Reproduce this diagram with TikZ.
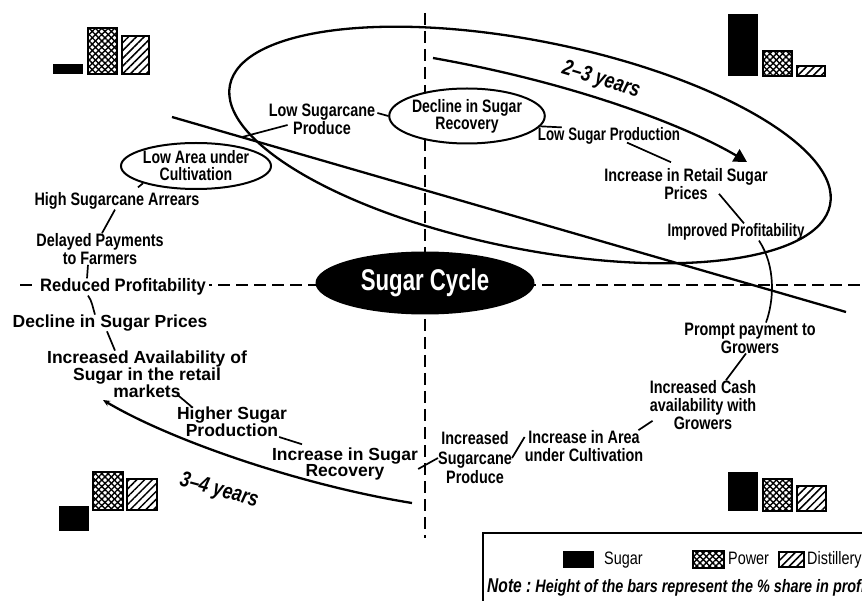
\documentclass[tikz,border=0pt]{standalone}
\usepackage{fontspec}
\setmainfont{Liberation Sans}
\newfontfamily\nf{Liberation Sans}[FakeStretch=0.80]
\newfontfamily\rf{Liberation Sans}[FakeStretch=0.92]
\newfontfamily\ef{Liberation Sans}[FakeStretch=0.78]
\newfontfamily\cf{Liberation Sans}[FakeStretch=0.74]
\usetikzlibrary{patterns.meta,arrows.meta,shapes.geometric}
\newcommand\pwbar[2]{%
  \fill[pattern={Lines[angle=45,distance=4.5pt,line width=1.4pt]}] (#1) rectangle (#2);
  \fill[pattern={Lines[angle=-45,distance=4.5pt,line width=1.4pt]}] (#1) rectangle (#2);
  \draw[barline] (#1) rectangle (#2);}
\newcommand\dsbar[2]{%
  \fill[pattern={Lines[angle=45,distance=5.5pt,line width=1.5pt]}] (#1) rectangle (#2);
  \draw[barline] (#1) rectangle (#2);}
\newcommand\sgbar[2]{\fill[black] (#1) rectangle (#2);}
\begin{document}
\begin{tikzpicture}[x=1pt,y=-1pt,
  lab/.style={inner sep=0pt, align=center, font=\nf\bfseries\fontsize{18}{18}\selectfont},
  clab/.style={inner sep=0pt, align=center, font=\cf\bfseries\fontsize{18}{18}\selectfont},
  blab/.style={inner sep=0pt, align=center, font=\bfseries\fontsize{17.5}{16.8}\selectfont},
  oval/.style={draw, ellipse, line width=2pt, fill=white, inner sep=0pt, align=center,
               font=\ef\bfseries\fontsize{18}{17}\selectfont},
  conn/.style={line width=1.7pt},
  curv/.style={line width=2.3pt},
  axis/.style={line width=2.6pt, dash pattern=on 12pt off 6pt},
  barline/.style={line width=1.2pt},
  yrs/.style={inner sep=0pt, font=\nf\bfseries\itshape\fontsize{22}{22}\selectfont},
  lgd/.style={anchor=base west, inner sep=0pt, font=\nf\fontsize{18}{18}\selectfont}]
\useasboundingbox (0,0) rectangle (862,601);
\clip (0,0) rectangle (862,601);
\fill[white] (0,0) rectangle (862,601);

% axes
\draw[axis] (20,285) -- (862,285);
\draw[axis] (425,13) -- (425,538);

% big loop and long lines
\node[draw, ellipse, line width=2.3pt, minimum width=612, minimum height=208,
      rotate=-11.3, inner sep=0pt] (bigell) at (530,145) {};
\draw[curv] (172,117) -- (846,312);
\draw[curv, -{Triangle[length=13pt,width=14pt]}] (433,58) .. controls (580,84) and (690,128) .. (747,162);
\draw[curv, -{Stealth[length=7pt,width=6pt]}] (412,503) .. controls (300,485) and (170,440) .. (103,400);

\node[yrs, rotate=-17] (y23) at (601,80) {2–3 years};
\node[yrs, rotate=-15] (y34) at (219,491) {3–4 years};

% nodes
\node[ellipse, fill=black, minimum width=219, minimum height=63, inner sep=0pt,
      text=white, font=\cf\bfseries\fontsize{30}{30}\selectfont] (sc) at (425,283) {Sugar Cycle};
\node[oval, minimum width=141, minimum height=55] (decl) at (467,116) {Decline in Sugar\\Recovery};
\node[oval, minimum width=142, minimum height=46] (lowarea) at (196,166) {Low Area under\\Cultivation};
\node[lab] (lsc) at (322,119) {Low Sugarcane\\Produce};
\node[clab] (lsp) at (609,136) {Low Sugar Production};
\node[lab] (irsp) at (686,184) {Increase in Retail Sugar\\Prices};
\node[clab] (imp) at (736,232) {Improved Profitability};
\node[lab] (ppg) at (750,338) {Prompt payment to\\Growers};
\node[lab] (icash) at (703,405) {Increased Cash\\availability with\\Growers};
\node[lab] (iarea) at (584,446) {Increase in Area\\under Cultivation};
\node[lab, font=\nf\bfseries\fontsize{18}{19.5}\selectfont] (isp) at (475,458) {Increased\\Sugarcane\\Produce};
\node[blab] (isr) at (345,464) {Increase in Sugar\\Recovery};
\node[blab] (hsp) at (232,422) {Higher Sugar\\Production};
\node[blab] (iasm) at (147,374) {Increased Availability of\\Sugar in the retail\\markets};
\node[blab] (dsp) at (110,323) {Decline in Sugar Prices};
\node[inner sep=0pt, inner xsep=3pt, fill=white, font=\rf\bfseries\fontsize{18}{18}\selectfont] (rp) at (123,287) {Reduced Profitability};
\node[lab] (dpf) at (100,249) {Delayed Payments\\to Farmers};
\node[lab] (hsa) at (117,201) {High Sugarcane Arrears};

% connectors
\draw[conn] ([shift={(19,6)}]lsc.west) -- ([shift={(10,-8)}]lowarea.30);
\draw[conn] ([shift={(2,-6)}]lsc.east) -- (decl.west);
\draw[conn] (decl.-8) -- ([xshift=24]lsp.north west);
\draw[conn] ([shift={(18,-2)}]lsp.south) -- ([shift={(-15,-6)}]irsp.north);
\draw[conn] ([shift={(33,-6)}]irsp.south) -- ([xshift=8]imp.north);
\draw[conn] ([xshift=23]imp.south) .. controls +(17,26) and +(8,-22) .. ([xshift=16]ppg.north);
\draw[conn] ([xshift=-4]ppg.south) -- ([xshift=23]icash.north);
\draw[conn] ([shift={(3,-9)}]icash.south west) -- ([xshift=-5]iarea.north east);
\draw[conn] (isp.east) -- ([yshift=9]iarea.west);
\draw[conn] ([yshift=-5]isr.east) -- (isp.west);
\draw[conn] ([xshift=-8]hsp.south east) -- ([shift={(-43,-3)}]isr.north);
\draw[conn] ([shift={(30,-3)}]iasm.south) -- ([xshift=15]hsp.north west);
\draw[conn] ([xshift=-3]dsp.south) -- ([xshift=-32]iasm.north);
\draw[conn] ([xshift=-35]rp.south) .. controls +(4,5) and +(-2,-6) .. ([xshift=-15]dsp.north);
\draw[conn] ([xshift=-12]dpf.south) -- ([xshift=-36]rp.north);
\draw[conn] ([xshift=-2]hsa.south) -- ([xshift=2]dpf.north);
\draw[conn] (lowarea.198) -- ([shift={(21,-5)}]hsa.north);

% bars
\sgbar{53,64}{83,74}   \pwbar{88,28}{117,74}   \dsbar{122,36}{149,74}
\sgbar{728,14}{758,76} \pwbar{763,51}{792,76}  \dsbar{797,66}{825,76}
\sgbar{59,506}{89,531} \pwbar{93,472}{123,510} \dsbar{127,479}{157,510}
\sgbar{728,472}{758,511} \pwbar{763,479}{792,511} \dsbar{797,486}{826,511}

% legend
\draw[line width=2.5pt, fill=white] (483,533) rectangle (880,620);
\sgbar{563,551}{594,568}
\pwbar{693,551}{724,568}
\dsbar{779,552}{804,567}
\node[lgd] (lgs) at (604,564) {Sugar};
\node[lgd] (lgp) at (728,564) {Power};
\node[lgd] (lgd) at (807,564) {Distillery};
\node[anchor=base west, inner sep=0pt, font=\nf\bfseries\itshape\fontsize{18}{18}\selectfont] (note) at (487,592)
  {{\ef\fontsize{20}{20}\selectfont Note :}\ Height of the bars represent the \% share in profits};
\end{tikzpicture}
\end{document}
